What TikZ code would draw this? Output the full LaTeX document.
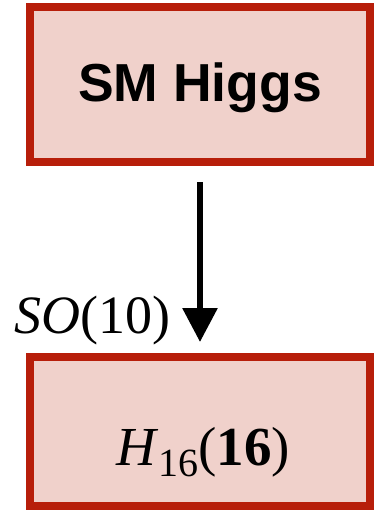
\documentclass[tikz,border=0pt]{standalone}
\usepackage{fontspec}
\setmainfont{Liberation Serif}
\newfontfamily\boxsans{Liberation Sans}
\usetikzlibrary{arrows.meta}
\definecolor{boxfill}{RGB}{240,209,203}
\definecolor{boxline}{RGB}{183,30,10}
\tikzset{
  redbox/.style={draw=boxline, fill=boxfill, line width=8pt, outer sep=0pt, inner sep=0pt, minimum width=340pt},
  bigarrow/.style={line width=6pt, -{Triangle[width=34pt,length=34pt]}},
}
\begin{document}
\begin{tikzpicture}[x=1pt,y=1pt]
\useasboundingbox (0,0) rectangle (374,-516);
\node[redbox, minimum height=155pt, text height=45pt, text depth=10pt] (top) at (200,-84.5)
  {\boxsans\bfseries\fontsize{53.5pt}{56pt}\selectfont SM Higgs};
\node[redbox, minimum height=149pt, text height=80pt, text depth=12pt] (bot) at (200,-431.5)
  {\fontsize{55pt}{58pt}\selectfont\hspace*{6pt}\textit{H}\raisebox{-11pt}{\fontsize{40pt}{42pt}\selectfont 16}(\textbf{16})};
\draw[bigarrow] ([yshift=-20pt]top.south) -- ([yshift=15pt]bot.north);
\node[anchor=base east, inner sep=0pt] (lab) at (170.5,-333)
  {\fontsize{54pt}{58pt}\selectfont\textit{SO}(10)};
\end{tikzpicture}
\end{document}
